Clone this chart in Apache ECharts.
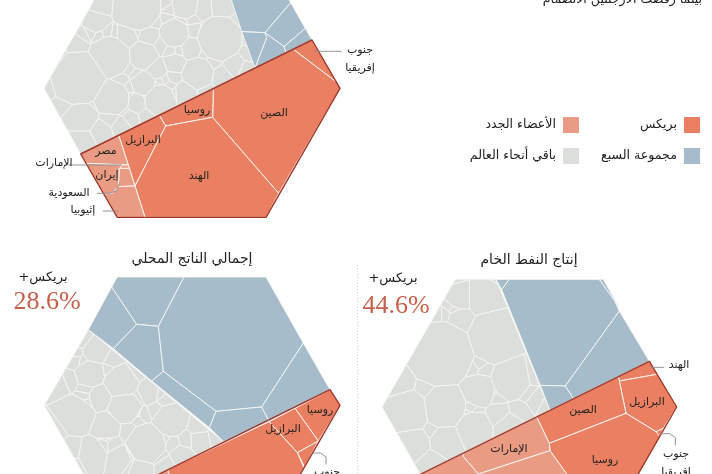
<!DOCTYPE html>
<html><head><meta charset="utf-8">
<style>html,body{margin:0;padding:0;background:#fff}#c{width:712px;height:474px}</style>
<script src="https://cdn.jsdelivr.net/npm/echarts@6/dist/echarts.min.js"></script>
</head><body><div id="c"></div>
<script>
const ORANGE='#ea8061',LIGHT='#e99b84',BLUE='#a6bccb',GRAY='#dcdedc',DARK='#a13527',NUM='#c85f49',INK='#222',LEAD='#8a8a8a';
const ARABIC="'DejaVu Sans'";

// Cell outlines, in each panel's own picture units (3 units = 1 reference pixel)
const topBrics=[
 [[880,148],[936,120],[1008,245]],
 [[640,267],[880,148],[1008,245],[1020,265],[836,580],[638,352]],
 [[478,346],[640,267],[638,352],[497,378]],
 [[356,406],[478,346],[497,378],[405,558]],
 [[497,378],[638,352],[836,580],[798,652],[435,652],[405,558]]];
const topNew=[
 [[242,462],[356,406],[385,495],[258,490]],
 [[368,495],[385,495],[388,505],[358,505]],
 [[358,505],[388,505],[405,558],[355,560]],
 [[258,490],[368,495],[358,505],[355,560],[338,580],[312,582]],
 [[312,582],[338,580],[355,560],[405,558],[435,652],[352,652]]];
const topG7=[
 [[655,-122],[798,-122],[872,8],[795,98],[725,95]],
 [[872,8],[916,85],[852,140],[795,98]],
 [[916,85],[936,120],[858,158],[852,140]],
 [[795,98],[852,140],[858,158],[765,204],[800,112]],
 [[725,95],[795,98],[800,112],[765,204]]];
const topRestRegion=[[132,265],[352,-122],[655,-122],[765,204],[242,462]];
const topRestCells=[[235,235,80],[412,20,70],[660,115,65],[330,170,60],[428,165,40],[335,295,52],[525,100,40],[595,220,45],[555,20,35],[380,110,30],[245,350,45],[430,252,35],[480,300,45],[575,145,28],[470,210,25],[245,420,30],[665,25,25],[285,65,30],[230,135,25],[555,278,28],[410,305,25],[360,375,25],[305,390,28],[660,230,22],[705,190,25],[740,160,15],[580,90,15],[610,30,20],[505,30,12],[515,152,7],[535,152,7],[525,190,25],[390,265,10],[480,245,6],[495,240,6],[470,255,5],[520,232,12],[300,10,30],[500,50,8],[495,15,8],[625,150,8],[385,355,15],[330,355,25],[620,275,14],[745,115,14],[270,95,10],[250,105,10],[200,310,15],[170,180,30],[620,90,8],[445,110,25],[350,110,10],[460,60,12],[440,290,8],[360,240,14],[510,255,7],[390,288,7],[480,135,9],[545,65,8],[300,110,8],[318,105,7],[405,100,8],[410,225,8],[385,205,8],[525,280,8],[635,190,8],[730,200,12],[690,160,8],[700,75,6],[610,160,6],[215,65,16],[165,255,8],[250,290,8],[270,320,10],[365,330,10],[445,345,8],[575,60,8]];
const gdpBrics=[
 [[990,458],[1020,505],[955,612],[885,514]],
 [[885,514],[955,612],[892,647],[807,554]],
 [[955,612],[914,690],[892,647]],
 [[503,698],[807,554],[892,647],[912,692],[798,891],[560,891]]];
const gdpNew=[[[300,799],[503,698],[560,891],[352,891]]];
const gdpG7=[
 [[265,278],[335,150],[410,262],[340,335]],
 [[335,150],[352,120],[552,120],[475,268],[410,262]],
 [[340,335],[410,262],[475,268],[490,403],[455,432]],
 [[552,120],[798,120],[910,318],[785,510],[648,523],[490,403],[475,268]],
 [[455,432],[490,403],[648,523],[628,572]],
 [[648,523],[785,510],[808,553],[672,615],[628,572]],
 [[910,318],[990,458],[808,553],[785,510]]];
const gdpRestRegion=[[265,278],[133,505],[300,799],[672,615]];
const gdpRestCells=[[225,535,52],[365,435,48],[270,410,38],[300,480,30],[375,510,45],[510,550,45],[440,620,55],[320,570,35],[275,650,38],[360,665,30],[420,700,30],[500,690,25],[545,660,28],[600,610,25],[595,575,15],[285,345,30],[225,370,12],[225,350,10],[205,430,15],[180,440,20],[445,465,28],[480,470,6],[495,490,6],[410,530,8],[425,535,7],[415,545,6],[320,600,10],[315,620,6],[325,610,5],[400,645,8],[385,655,5],[260,455,8],[255,480,6],[260,495,5],[490,605,8],[400,410,20],[340,375,12],[220,680,15],[170,575,18],[215,640,25],[560,610,10],[645,600,10],[240,310,10],[250,375,8],[330,400,8],[415,480,9],[350,530,7],[470,520,8],[385,580,9],[335,620,9],[480,660,8],[395,690,7],[515,620,9]];
const oilBrics=[
 [[787,419],[880,373],[903,412],[790,432]],
 [[790,432],[903,412],[962,510],[922,574],[900,584],[810,529]],
 [[900,584],[922,574],[912,599]],
 [[542,540],[787,419],[790,432],[810,529],[580,619]],
 [[580,619],[810,529],[900,584],[912,599],[742,893],[680,893],[632,711],[582,641]]];
const oilNew=[
 [[322,649],[542,540],[580,619],[582,641],[367,711],[322,659]],
 [[193,712],[322,649],[322,659],[367,711],[300,893]],
 [[367,711],[582,641],[632,711],[680,893],[300,893]]];
const oilG7=[
 [[420,127],[460,127],[437,158]],
 [[460,127],[730,127],[775,190],[790,222],[628,447],[553,445],[437,158]],
 [[730,127],[742,127],[790,212],[775,190]],
 [[790,222],[880,373],[652,485],[628,447]],
 [[553,445],[628,447],[652,485],[582,520]]];
const oilRestRegion=[[420,127],[298,127],[78,510],[193,712],[582,520]];
const oilRestCells=[[255,350,95],[265,510,62],[415,300,75],[385,175,50],[310,175,38],[310,250,30],[465,430,55],[370,460,45],[155,525,60],[355,575,50],[270,610,42],[170,620,45],[225,680,30],[460,570,42],[430,535,30],[490,525,25],[540,490,22],[370,385,8],[355,395,7],[380,400,7],[345,515,8],[355,525,6],[335,530,6],[295,215,8],[285,205,7],[210,460,7],[425,480,7],[420,460,5],[560,500,10],[515,470,15],[245,235,12],[265,235,8],[300,138,8],[130,440,30],[395,130,10],[415,135,6],[230,580,7],[520,420,10]];
const topLeaders=[[[941,154],[1025,154]],[[203,495],[366,495]],[[290,580],[330,580],[350,572],[358,550]],[[308,633],[356,633]]];
const gdpLeaders=[[[940,648],[962,648],[978,660],[978,682]]];
const oilLeaders=[[[885,391],[925,391]],[[915,590],[942,590],[958,602],[958,625]]];

const labels=[
 ['جنوب',360,50],['إفريقيا',360,68],['الصين',274,113],['روسيا',197,110],['البرازيل',143,140],['مصر',106,151],['إيران',107,175],['الهند',199,176],['الإمارات',54,163],['السعودية',69,193],['إثيوبيا',83,210],
 ['روسيا',320,410],['البرازيل',283,429],['جنوب',327,472],
 ['الهند',679,365],['البرازيل',647,402],['الصين',583,410],['الإمارات',509,449],['روسيا',605,460],['جنوب',676,454],['إفريقيا',676,472]];
const legend=[['بريكس',ORANGE,684,117],['مجموعة السبع',BLUE,684,148],['الأعضاء الجدد',LIGHT,563,117],['باقي أنحاء العالم',GRAY,563,148]];
const titles=[['إجمالي الناتج المحلي',192,259],['إنتاج النفط الخام',529,260]];
const headlines=[['بريكس+\u200F',43,278,'28.6%',47,302],['بريكس+\u200F',393,279,'44.6%',396,306]];
const intro='بينما رفضت الأرجنتين الانضمام';

function powerCells(region,sites){
 return sites.map((s,i)=>{
  let poly=region.slice();
  sites.forEach((t,j)=>{
   if(i===j||!poly.length)return;
   const a=2*(t[0]-s[0]),b=2*(t[1]-s[1]);
   const c=t[0]*t[0]+t[1]*t[1]-t[2]*t[2]-s[0]*s[0]-s[1]*s[1]+s[2]*s[2];
   const out=[];
   for(let k=0;k<poly.length;k++){
    const p=poly[k],q=poly[(k+1)%poly.length];
    const dp=a*p[0]+b*p[1]-c,dq=a*q[0]+b*q[1]-c;
    if(dp<=0)out.push(p);
    if((dp<0&&dq>0)||(dp>0&&dq<0)){const u=dp/(dp-dq);out.push([p[0]+u*(q[0]-p[0]),p[1]+u*(q[1]-p[1])]);}
   }
   poly=out;
  });
  return poly;
 }).filter(p=>p.length>2);
}
function cellSeries(g,cells,fill){
 return {type:'custom',xAxisIndex:g,yAxisIndex:g,silent:true,animation:false,clip:false,
  data:cells.map((c,i)=>[i,i]),
  renderItem(params,api){
   return {type:'polygon',shape:{points:cells[params.dataIndex].map(p=>api.coord(p))},
    style:{fill,stroke:'#f4f4f2',lineWidth:1,lineJoin:'round'}};
  }};
}
function lineSeries(g,paths,stroke,width,closed){
 return {type:'custom',xAxisIndex:g,yAxisIndex:g,silent:true,animation:false,clip:false,z:5,
  data:paths.map((c,i)=>[i,i]),
  renderItem(params,api){
   return {type:closed?'polygon':'polyline',shape:{points:paths[params.dataIndex].map(p=>api.coord(p))},
    style:{fill:'none',stroke,lineWidth:width,lineJoin:'round'}};
  }};
}
const panels=[
 {left:0,top:0,brics:topBrics,nw:topNew,g7:topG7,region:topRestRegion,rest:topRestCells,leaders:topLeaders,
  rim:[[936,120],[1020,265],[798,652],[352,652],[242,462]]},
 {left:0,top:237,brics:gdpBrics,nw:gdpNew,g7:gdpG7,region:gdpRestRegion,rest:gdpRestCells,leaders:gdpLeaders,
  rim:[[990,458],[1020,505],[798,891],[352,891],[300,799]]},
 {left:356,top:237,brics:oilBrics,nw:oilNew,g7:oilG7,region:oilRestRegion,rest:oilRestCells,leaders:oilLeaders,
  rim:[[880,373],[962,510],[742,893],[300,893],[193,712]]}];
const grid=[],xAxis=[],yAxis=[],series=[];
panels.forEach((p,g)=>{
 grid.push({left:p.left,top:p.top,width:356,height:237});
 xAxis.push({type:'value',gridIndex:g,min:0,max:1068,show:false});
 yAxis.push({type:'value',gridIndex:g,min:0,max:711,inverse:true,show:false});
 series.push(cellSeries(g,powerCells(p.region,p.rest),GRAY));
 series.push(cellSeries(g,p.g7,BLUE));
 series.push(cellSeries(g,p.brics,ORANGE));
 series.push(cellSeries(g,p.nw,LIGHT));
 series.push(lineSeries(g,[p.rim],DARK,1.4,true));
 series.push(lineSeries(g,p.leaders,LEAD,0.9,false));
});
const txt=(text,x,y,size,opt)=>({type:'text',x,y,silent:true,z:20,style:Object.assign({text,fontFamily:ARABIC,fontSize:size,fill:INK,align:'center',verticalAlign:'middle'},opt||{})});
const gfx=[];
gfx.push(txt(intro,702,0,12.6,{align:'right'}));
labels.forEach(l=>gfx.push(txt(l[0],l[1],l[2],11)));
legend.forEach(l=>{
 gfx.push({type:'rect',silent:true,shape:{x:l[2],y:l[3],width:16,height:16},style:{fill:l[1]}});
 gfx.push(txt(l[0],l[2]-7,l[3]+8,12.6,{align:'right'}));
});
titles.forEach(t=>gfx.push(txt(t[0],t[1],t[2],14)));
headlines.forEach(h=>{
 gfx.push(txt(h[0],h[1],h[2],13));
 gfx.push(txt(h[3],h[4],h[5],26,{fontFamily:"'Liberation Serif'",fill:NUM}));
});
gfx.push({type:'line',silent:true,shape:{x1:357.5,y1:265,x2:357.5,y2:474},style:{stroke:'#cfcfcf',lineWidth:1,lineDash:[1,2]}});
echarts.init(document.getElementById('c'),null,{renderer:'canvas'}).setOption({animation:false,grid,xAxis,yAxis,series,graphic:gfx});
</script></body></html>
